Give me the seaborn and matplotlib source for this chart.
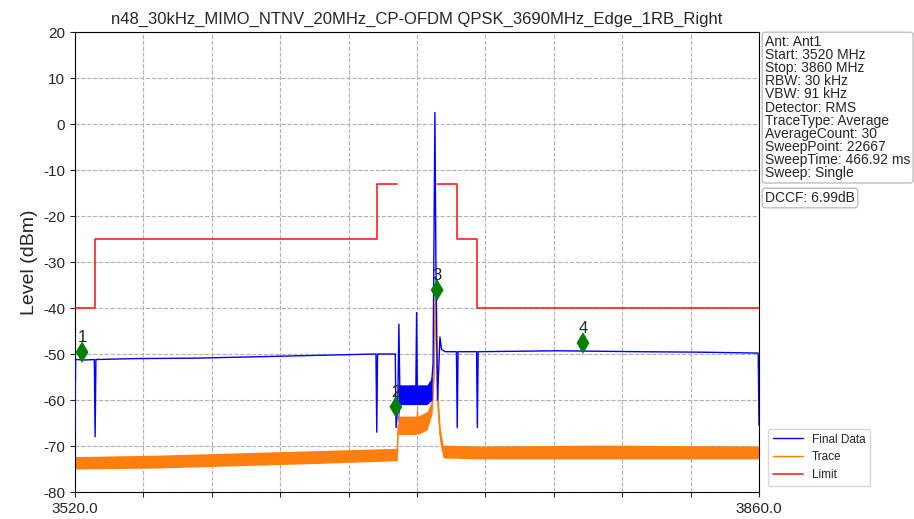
import numpy as np
import pandas as pd
import matplotlib
matplotlib.use('Agg')
import matplotlib.pyplot as plt
import seaborn as sns

# ---------------------------------------------------------
# Data (MHz / dBm)
# ---------------------------------------------------------
title = 'n48_30kHz_MIMO_NTNV_20MHz_CP-OFDM QPSK_3690MHz_Edge_1RB_Right'

# Final Data (blue) - main outline
final_freq = [3520.0, 3520.3, 3525.0, 3529.6, 3530.0, 3530.4, 3550.0, 3580.0,
              3610.0, 3640.0, 3669.6, 3670.0, 3670.4, 3679.2, 3679.6, 3680.4,
              3681.0, 3681.5, 3685.0, 3689.4, 3689.8, 3690.2, 3694.0, 3697.0,
              3698.0, 3698.9, 3699.4, 3700.2, 3701.4, 3702.2, 3704.0, 3709.6,
              3710.0, 3710.4, 3719.6, 3720.0, 3720.4, 3760.0, 3800.0, 3830.0,
              3859.6, 3860.0]
final_level = [-67.0, -51.2, -51.3, -51.2, -68.0, -51.2, -51.0, -50.9,
               -50.6, -50.3, -50.0, -67.0, -50.0, -50.0, -66.0, -62.0,
               -43.5, -59.0, -59.0, -59.0, -41.0, -59.0, -58.5, -58.0,
               -52.0, 2.5, -30.0, -60.0, -46.3, -49.0, -49.5, -49.5,
               -66.0, -49.5, -49.5, -66.0, -49.5, -49.3, -49.5, -49.6,
               -49.8, -65.5]

# Final Data noise band inside the channel
final_band_freq = [3680.6, 3681.5, 3690.0, 3695.0, 3697.5]
final_band_lo = [-65.0, -61.0, -61.0, -61.0, -60.0]
final_band_hi = [-57.0, -56.7, -56.7, -56.7, -55.0]

# Trace (orange) - envelope of the noisy average trace
trace_freq = [3520.0, 3560.0, 3600.0, 3640.0, 3680.2, 3680.6, 3685.0, 3689.5,
              3690.0, 3690.5, 3695.0, 3697.5, 3698.6, 3699.0, 3699.6, 3700.4,
              3701.5, 3703.0, 3720.0, 3780.0, 3860.0]
trace_lo = [-75.0, -74.8, -74.3, -73.8, -73.2, -67.5, -67.5, -67.5,
            -67.0, -67.5, -66.5, -63.0, -55.0, -39.0, -50.0, -64.0,
            -69.5, -72.6, -72.8, -72.8, -72.8]
trace_hi = [-72.3, -72.0, -71.5, -71.0, -70.5, -63.5, -63.5, -63.5,
            -60.6, -63.5, -62.5, -60.0, -48.0, -36.5, -44.0, -58.0,
            -66.0, -69.8, -70.0, -69.8, -70.0]

# Limit (red) - two segments around the channel
limit_freq = [3520, 3530, 3530, 3670, 3670, 3680,
              3700, 3710, 3710, 3720, 3720, 3860]
limit_level = [-40, -40, -25, -25, -13, -13,
               -13, -13, -25, -25, -40, -40]
limit_seg = [0, 0, 0, 0, 0, 0,
             1, 1, 1, 1, 1, 1]

# Markers
marker_freq = [3523.5, 3679.5, 3700.0, 3772.5]
marker_level = [-49.6, -61.5, -36.1, -47.6]
marker_labels = ['1', '2', '3', '4']

info_lines = ['Ant: Ant1', 'Start: 3520 MHz', 'Stop: 3860 MHz', 'RBW: 30 kHz',
              'VBW: 91 kHz', 'Detector: RMS', 'TraceType: Average',
              'AverageCount: 30', 'SweepPoint: 22667', 'SweepTime: 466.92 ms',
              'Sweep: Single']
dccf_text = 'DCCF: 6.99dB'

x_start, x_stop = 3520.0, 3860.0
y_ticks = list(range(-80, 21, 10))

# ---------------------------------------------------------
# Plot
# ---------------------------------------------------------
sns.set_style('ticks')
plt.rcParams['font.family'] = ['Liberation Sans', 'DejaVu Sans']
plt.rcParams['axes.unicode_minus'] = False

fig = plt.figure(figsize=(9.14, 5.19), dpi=100)
ax = fig.add_axes([75 / 914, 1 - 492 / 519, (759 - 75) / 914, (492 - 32) / 519])

blue = '#0000ff'
orange = '#ff7f0e'
red = '#ff2020'

df_trace = pd.DataFrame({'freq': trace_freq,
                         'mid': (np.array(trace_lo) + np.array(trace_hi)) / 2})
ax.fill_between(trace_freq, trace_lo, trace_hi, color=orange, lw=0, zorder=2)
sns.lineplot(data=df_trace, x='freq', y='mid', color=orange, lw=1,
             sort=False, ax=ax, label='Trace', zorder=2)

ax.fill_between(final_band_freq, final_band_lo, final_band_hi, color=blue, lw=0, zorder=3)
df_final = pd.DataFrame({'freq': final_freq, 'level': final_level})
sns.lineplot(data=df_final, x='freq', y='level', color=blue, lw=1,
             sort=False, ax=ax, label='Final Data', zorder=3)

df_limit = pd.DataFrame({'freq': limit_freq, 'level': limit_level, 'seg': limit_seg})
sns.lineplot(data=df_limit, x='freq', y='level', units='seg', estimator=None,
             color=red, lw=1.2, sort=False, ax=ax, zorder=4)
ax.plot([], [], color=red, lw=1.2, label='Limit')

df_mark = pd.DataFrame({'freq': marker_freq, 'level': marker_level})
sns.scatterplot(data=df_mark, x='freq', y='level', marker='d', s=120,
                color='#008000', edgecolor='none', ax=ax, zorder=5, legend=False)
for fx, fy, lab in zip(marker_freq, marker_level, marker_labels):
    ax.annotate(lab, (fx, fy), xytext=(0, 5), textcoords='offset points',
                ha='center', va='bottom', fontsize=12, zorder=6)

ax.set_xlim(x_start, x_stop)
ax.set_ylim(-80, 20)
xt = np.linspace(x_start, x_stop, 11)
ax.set_xticks(xt)
ax.set_xticklabels(['3520.0'] + [''] * 9 + ['3860.0'], fontsize=11)
ax.set_yticks(y_ticks)
ax.tick_params(axis='y', labelsize=11)
ax.grid(True, linestyle='--', color='#b0b0b0', linewidth=0.8)
ax.set_xlabel('')
ax.set_ylabel('Level (dBm)', fontsize=14)
ax.set_title(title, fontsize=12)
for sp in ax.spines.values():
    sp.set_visible(True)
    sp.set_color('black')

h, l = ax.get_legend_handles_labels()
order = [l.index('Final Data'), l.index('Trace'), l.index('Limit')]
ax.legend([h[i] for i in order], [l[i] for i in order],
          loc='lower left', bbox_to_anchor=(1.005, 0.0), fontsize=8.5,
          frameon=True, handlelength=2.5)

box = dict(boxstyle='round,pad=0.2', fc='white', ec='#c0c0c0')
fig.text(765 / 914, 1 - 35 / 519, '\n'.join(info_lines), fontsize=10,
         va='top', ha='left', linespacing=0.92, bbox=box)
fig.text(765 / 914, 1 - 198 / 519, dccf_text, fontsize=10,
         va='center', ha='left', bbox=box)

plt.savefig('out.png', dpi=100)
